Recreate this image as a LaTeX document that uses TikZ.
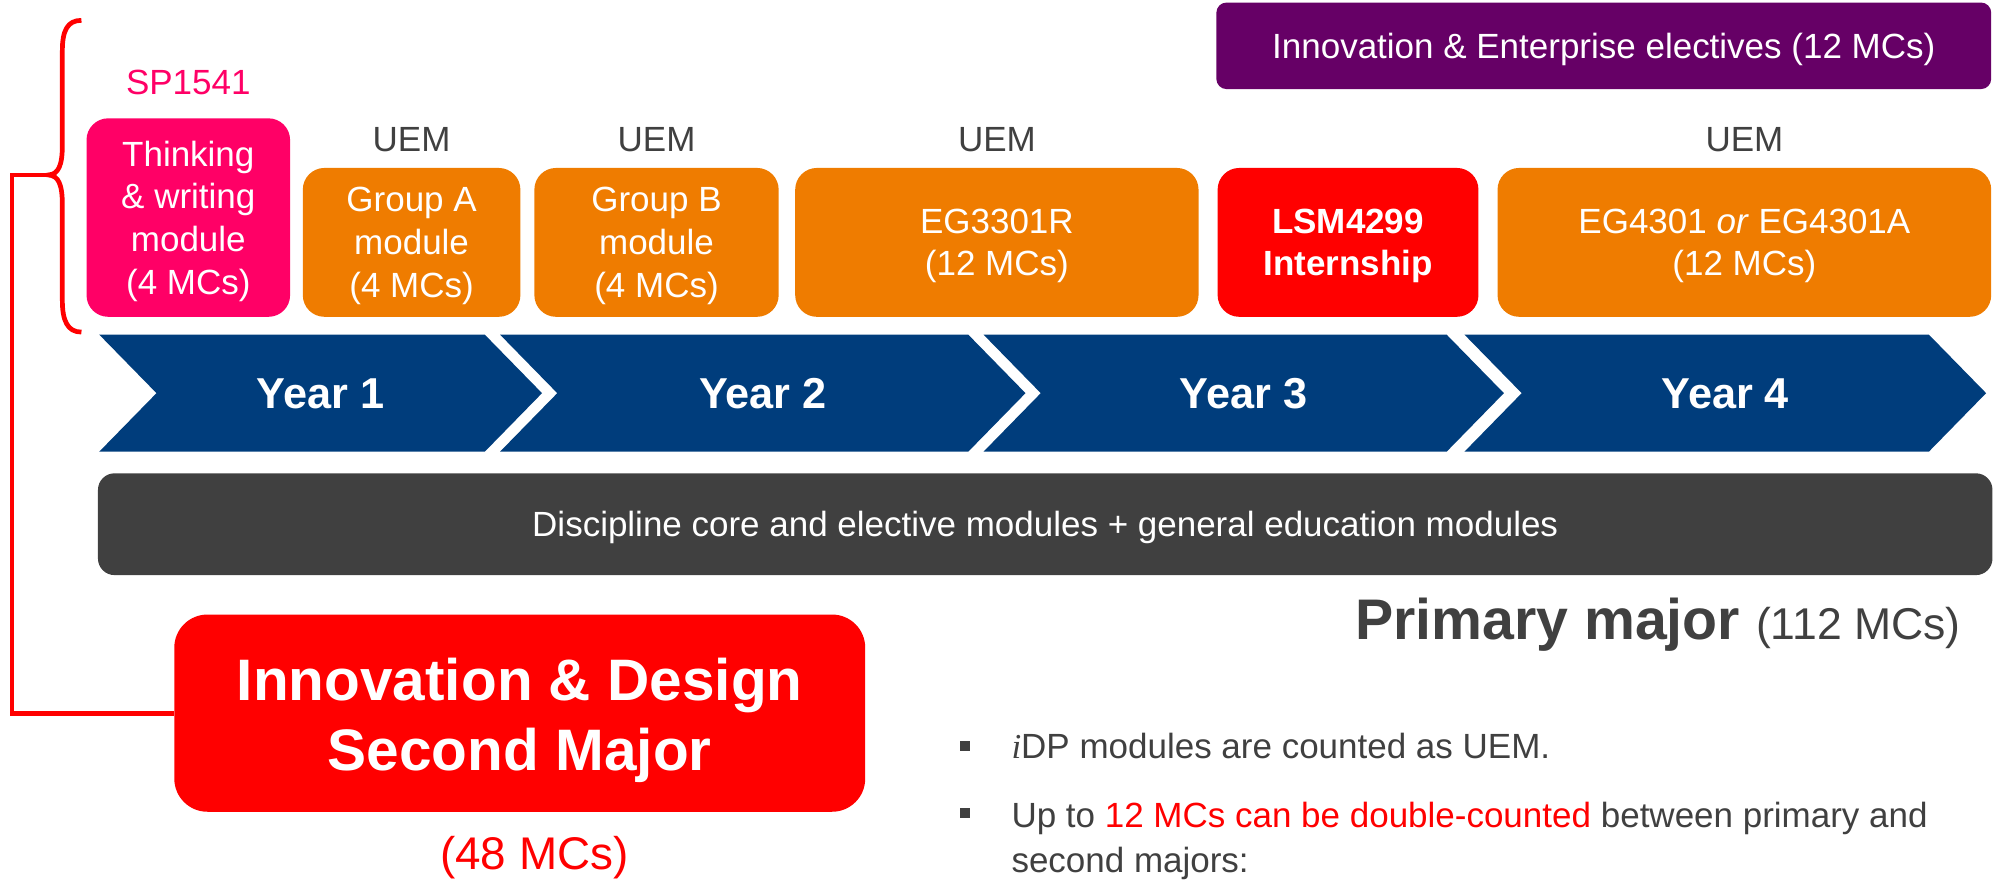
\documentclass[tikz,border=0pt]{standalone}
\usepackage{fontspec}
\setmainfont{Liberation Sans}
\newfontfamily\timesfont{Liberation Serif}
\definecolor{nuspink}{RGB}{255,0,102}
\definecolor{nusorange}{RGB}{239,124,0}
\definecolor{nusred}{RGB}{255,0,0}
\definecolor{nuspurple}{RGB}{102,0,102}
\definecolor{nusblue}{RGB}{0,61,124}
\definecolor{darkgrey}{RGB}{64,64,64}
\newcommand\fsz[2]{\fontsize{#1}{#2}\selectfont}
\begin{document}
\begin{tikzpicture}[x=1pt,y=-1pt,
  every node/.style={inner sep=0pt, outer sep=0pt},
  modbox/.style={rounded corners=17pt, text=white, align=center, font=\fsz{27.5}{33.5}, text depth=0pt},
  uemlabel/.style={text=darkgrey, font=\fsz{27.5}{33}, anchor=base},
  yeartext/.style={text=white, font=\bfseries\fsz{34}{40}, anchor=base},
  redline/.style={draw=nusred, line width=3.7pt},
  bullettext/.style={text=darkgrey, font=\fsz{27.5}{36}, anchor=base west},
  bulletsq/.style={fill=darkgrey, minimum size=8pt},
]
\useasboundingbox (0,0) rectangle (1568,691);

% purple elective bar
\node[fill=nuspurple, rounded corners=8pt, minimum width=609pt, minimum height=68pt,
      text=white, font=\fsz{27.5}{33}, text height=19.7pt, text depth=0pt]
      (ie) at (1260.5,36) {Innovation \& Enterprise electives (12 MCs)};

% labels
\node[text=nuspink, font=\fsz{27.5}{33}, anchor=base] (sp) at (148,74) {SP1541};
\node[uemlabel] (uemA) at (323.5,119) {UEM};
\node[uemlabel] (uemB) at (516,119) {UEM};
\node[uemlabel] (uemC) at (783.5,119) {UEM};
\node[uemlabel] (uemD) at (1371,119) {UEM};

% module boxes
\node[modbox, fill=nuspink, minimum width=160pt, minimum height=156pt] (think) at (148,171)
  {Thinking\\\& writing\\module\\(4 MCs)};
\node[modbox, fill=nusorange, minimum width=171pt, minimum height=117pt] (grpA) at (323.5,190.5)
  {Group A\\module\\(4 MCs)};
\node[modbox, fill=nusorange, minimum width=192pt, minimum height=117pt] (grpB) at (516,190.5)
  {Group B\\module\\(4 MCs)};
\node[modbox, fill=nusorange, minimum width=317pt, minimum height=117pt] (eg3) at (783.5,190.5)
  {EG3301R\\(12 MCs)};
\node[modbox, fill=nusred, minimum width=205pt, minimum height=117pt, font=\bfseries\fsz{27.5}{33.5}] (lsm) at (1059.5,190.5)
  {LSM4299\\Internship};
\node[modbox, fill=nusorange, minimum width=388pt, minimum height=117pt] (eg4) at (1371,190.5)
  {EG4301 \textit{or} EG4301A\\(12 MCs)};

% year chevrons
\foreach \xl/\xr/\t/\n in {78/381/Year 1/y1, 393/761/Year 2/y2, 773/1137/Year 3/y3, 1151/1516/Year 4/y4} {
  \fill[nusblue] (\xl,263) -- (\xr,263) -- (\xr+45,309) -- (\xr,355) -- (\xl,355) -- (\xl+45,309) -- cycle;
  \node[yeartext] (\n) at ({(\xl+\xr+45)/2},321) {\t};
}

% discipline bar
\node[fill=darkgrey, rounded corners=13pt, minimum width=1489pt, minimum height=80pt,
      text=white, font=\fsz{27.5}{33}, text height=19.7pt, text depth=0pt]
      (disc) at (821.5,412) {Discipline core and elective modules + general education modules};

% primary major
\node[anchor=base east, text=darkgrey] (prim) at (1541,503)
  {{\bfseries\fsz{45}{50}Primary major\ }{\fsz{35}{40}(112 MCs)}};

% second major
\node[fill=nusred, rounded corners=26pt, minimum width=543pt, minimum height=155pt] (idsm) at (408.5,560.5) {};
\node[text=white, align=center, font=\bfseries\fsz{46}{55}] (idsmT) at ([shift={(0,5.4)}]idsm.center)
  {Innovation \& Design\\Second Major};
\node[text=nusred, font=\fsz{36}{40}, anchor=base] (mc48) at (420,683) {(48 MCs)};

% brace and connector
\draw[redline] (64,16) .. controls (53,16) and (49,24) .. (49,40) -- (49,114)
  .. controls (49,130) and (46,137) .. (38,137.5)
  .. controls (46,138) and (49,145) .. (49,161) -- (49,236)
  .. controls (49,252) and (53,261) .. (64,261);
\coordinate (bracetip) at (38,137.5);
\coordinate (bend) at (9.5,137.5);
\draw[redline] (bracetip) -- (bend) |- (idsm.west);

% bullets
\node[bulletsq] (bq1) at (758.5,586.5) {};
\node[bulletsq] (bq2) at (758.5,639) {};
\node[bullettext] (bt1) at (795,596) {{\timesfont\itshape i}DP modules are counted as UEM.};
\node[bullettext] (bt2) at (795,650) {Up to \textcolor{nusred}{12 MCs can be double-counted} between primary and};
\node[bullettext] (bt3) at (795,686) {second majors:};
\end{tikzpicture}
\end{document}
